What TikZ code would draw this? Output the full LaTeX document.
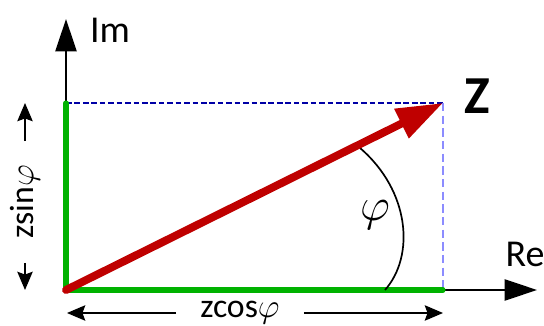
\RequirePackage{fix-cm}
\documentclass[tikz,border=0pt]{standalone}
\usepackage{fontspec}
\setmainfont{Carlito}
\usetikzlibrary{arrows.meta,calc}

\begin{document}
\begin{tikzpicture}[
  x=0.025cm, y=0.025cm,
  axis/.style={line width=1.4pt, -{Triangle[length=23pt, width=15pt]}},
  comp/.style={line width=3.6pt, draw=green!70!black, line cap=round},
  vec/.style={line width=5.6pt, draw=red!75!black, line cap=round, -{Triangle[length=33pt, width=22pt]}},
  proj/.style={line width=0.8pt, dash pattern=on 4pt off 2pt},
  dim/.style={line width=0.8pt, -{Stealth[length=13pt, width=11pt, inset=2pt]}},
  lbl/.style={font=\fontsize{27}{32}\selectfont, inner sep=0pt},
  dimlbl/.style={font=\fontsize{24}{28}\selectfont, inner ysep=0pt, inner xsep=17pt},
]
\useasboundingbox (0,0) rectangle (544,326);

% === AXES AND POINTS ===
\coordinate (O) at (66,36);
\coordinate (Z) at (443,223);
\coordinate (Y) at (66,223);
\coordinate (X) at (443,36);
\coordinate (imtip) at (66,307);
\coordinate (retip) at (537,36);

\draw[axis] (O) -- (imtip);
\draw[axis] (O) -- (retip);

% projections
\draw[proj, draw=blue!65!black] (Y) -- (Z);
\draw[proj, draw=blue!45, dash pattern=on 6pt off 3pt] (Z) -- (X);

% components
\draw[comp] (O) -- (Y);
\draw[comp] (O) -- (X);

% angle
\coordinate (arcb) at (385,36);
\coordinate (arct) at (360,178);
\draw[line width=1.2pt] (arcb) .. controls (415,70) and (410,135) .. (arct);

% vector
\draw[vec] (O) -- (Z);

% === LABELS ===
\node[lbl] (im) at (110,296) {Im};
\node[lbl] (re) at (525,72) {Re};
\node[font=\fontsize{38}{44}\selectfont\bfseries, inner sep=0pt] (zlbl) at (477,230) {Z};
\node[lbl, font=\fontsize{33}{38}\selectfont] (phi) at (375,111) {$\varphi$};

\node[dimlbl] (zcos) at (240,13) {zcos$\varphi$};
\coordinate (xl) at (67,13);
\coordinate (xr) at (443,13);
\draw[dim] (zcos.west) -- (xl);
\draw[dim] (zcos.east) -- (xr);

\node[dimlbl, rotate=90] (zsin) at (25,124) {zsin$\varphi$};
\coordinate (yb) at (25,36);
\coordinate (yt) at (25,223);
\draw[dim] (zsin.west) -- (yb);
\draw[dim] (zsin.east) -- (yt);
\end{tikzpicture}
\end{document}
